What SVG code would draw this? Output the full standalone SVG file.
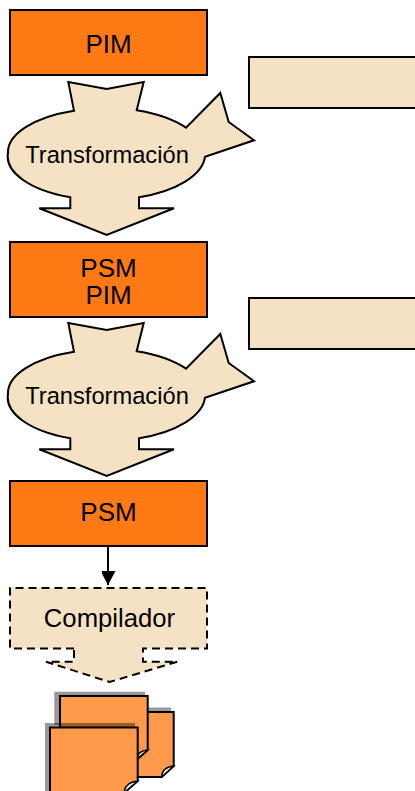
<svg xmlns="http://www.w3.org/2000/svg" width="415" height="791" viewBox="0 0 415 791">
<style>
.box{fill:#ff7a14;stroke:#000;stroke-width:2}
.note{fill:#f5e2c4;stroke:#000;stroke-width:2}
.t{fill:#f5e2c4;stroke:#000;stroke-width:2;stroke-linejoin:miter}
.lbl{font-family:"Liberation Sans",Arial,sans-serif;font-size:26px;fill:#000;text-anchor:middle}
.tl{font-size:23.7px}
.cl{font-size:25.7px}
.doc{fill:#ff9a4d;stroke:#000;stroke-width:2}
.fold{fill:#f5e2c4;stroke:#000;stroke-width:1.5}
.sh{fill:#000;fill-opacity:.4}
</style>
<defs>
<marker id="arr" markerWidth="16" markerHeight="14" refX="14" refY="7.5" orient="auto" markerUnits="userSpaceOnUse"><path d="M0 0L14 7.500L0 15Z" fill="#000"/></marker>
<path id="trans" d="M68.300 82L106.700 89L143.700 82L136.700 110.300A99 46 0 0 1 186 127.700L220.300 93L228.700 122L254 140.300L205 156.700A99 46 0 0 1 139 197.300L139 208.300L174 208.300L106.700 235L39.300 208.300L70.300 208.300L70.300 197.300A99 44 0 0 1 8 153A99 44 0 0 1 74 110.800Z"/>
</defs>
<g id="connectors"><path d="M108 546V585" fill="none" stroke="#000" stroke-width="2" marker-end="url(#arr)"/></g>
<g id="pim"><rect class="box" x="10" y="10" width="197" height="65"/><text class="lbl" x="108.500" y="53">PIM</text></g>
<g id="note1"><rect class="note" x="249" y="57" width="170" height="51"/></g>
<g id="transformacion1"><use href="#trans" class="t"/><text class="lbl tl" x="107" y="163">Transformación</text></g>
<g id="psm-pim"><rect class="box" x="10" y="242" width="197" height="75"/><text class="lbl"><tspan x="108.500" y="277">PSM</tspan><tspan x="108.500" y="304">PIM</tspan></text></g>
<g id="note2"><rect class="note" x="249" y="298" width="170" height="51"/></g>
<g id="transformacion2"><use href="#trans" class="t" y="241"/><text class="lbl tl" x="107" y="404">Transformación</text></g>
<g id="psm"><rect class="box" x="10" y="481" width="197" height="65"/><text class="lbl" x="108.500" y="521">PSM</text></g>
<g id="compilador"><path d="M10 588H207V648.500H143V661.700H177.500L109.500 682L46 661.700H74V648.500H10Z" fill="#f5e2c4" stroke="none"/><path d="M74 648.500H10V588H207V648.500H143V661.700H177.500L109.500 682L46 661.700H74Z" fill="none" stroke="#000" stroke-width="2" stroke-dasharray="8 5"/><text class="lbl cl" x="109.500" y="627">Compilador</text></g>
<g id="documentos">
<rect class="sh" x="148" y="707.500" width="23" height="4"/>
<path class="doc" d="M140 712H173.700V766L161.700 777H130V712Z"/><path class="fold" d="M161.700 777Q162 767 173.700 766Z"/>
<path class="sh" d="M54.300 691.700H145V695.700H60V725H54.300Z"/>
<path class="doc" d="M60 696H147.700V750L137.700 759H60Z"/><path class="fold" d="M137 759Q137 751 147.700 750Z"/>
<path class="sh" d="M45 723H135V727H50V791H45Z"/>
<path class="doc" d="M50 727.500H137.700V781L124 793H50Z"/><path class="fold" d="M124 793Q125 782 137.700 781Z"/>
</g>
</svg>
